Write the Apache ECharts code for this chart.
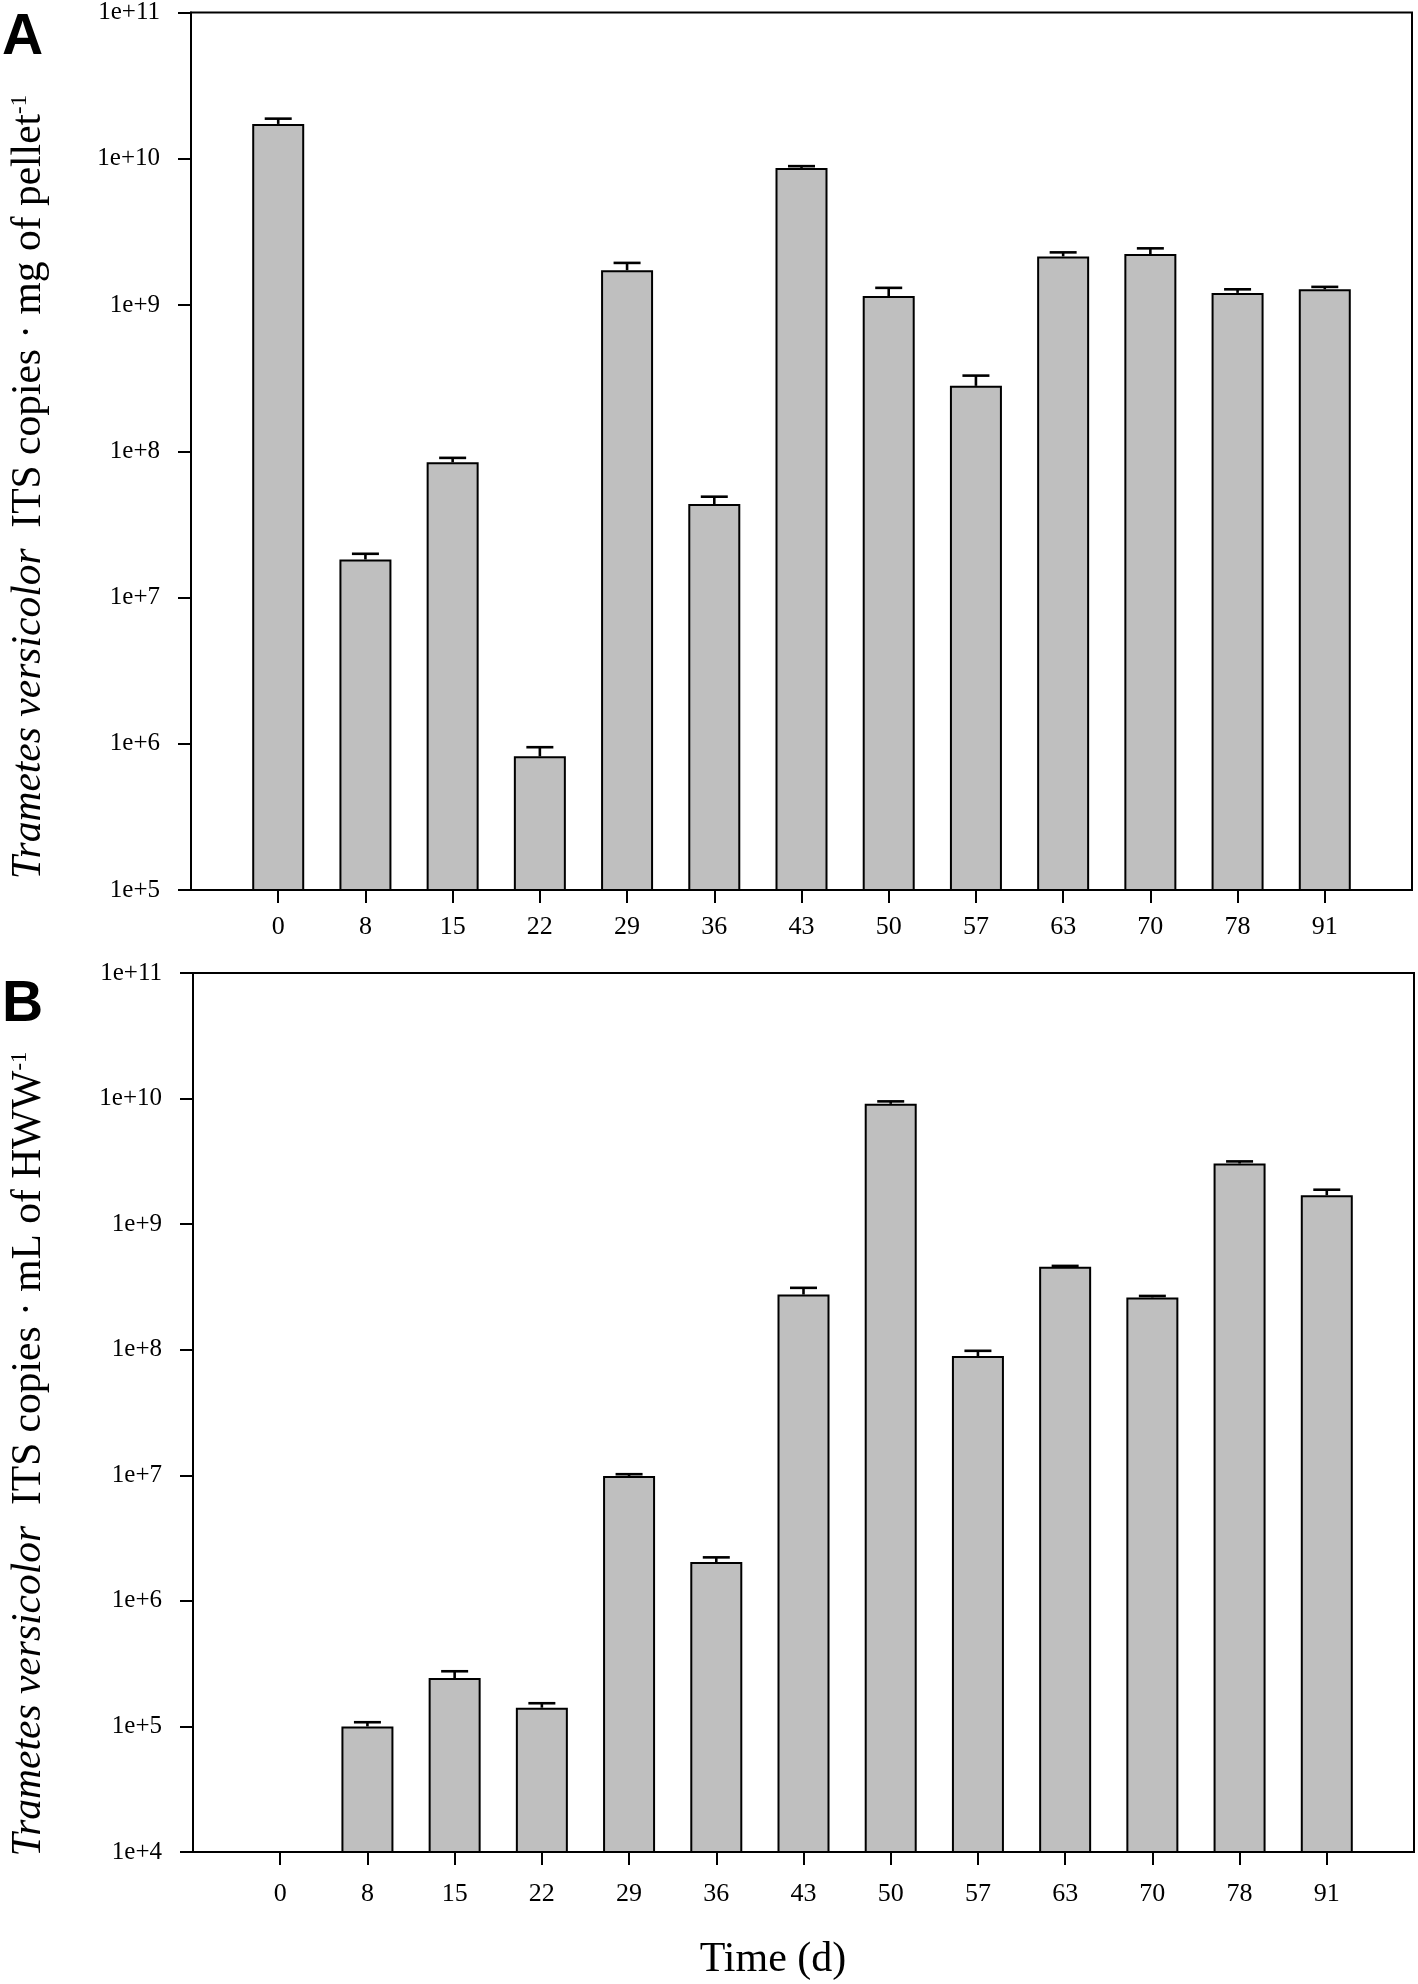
<!DOCTYPE html>
<html>
<head>
<meta charset="utf-8">
<script src="https://cdn.jsdelivr.net/npm/echarts@6/dist/echarts.min.js"></script>
<style>
html,body{margin:0;padding:0;background:#fff;}
#chart{width:1418px;height:1984px;}
</style>
</head>
<body>
<div id="chart"></div>
<script>
// ---- data ----
const days = ['0','8','15','22','29','36','43','50','57','63','70','78','91'];
// Panel A: ITS copies per mg of pellet (mean, upper error = SE)
const meanA = [1.73e10, 1.82e7, 8.4e7, 8.2e5, 1.73e9, 4.36e7, 8.65e9, 1.15e9, 2.80e8, 2.15e9, 2.23e9, 1.21e9, 1.28e9];
const errA  = [1.5e9, 1.7e6, 6.1e6, 1.27e5, 2.1e8, 5.3e6, 2.5e8, 1.6e8, 4.9e7, 1.4e8, 2.1e8, 7e7, 5e7];
// Panel B: ITS copies per mL of HWW (day 0 not detected)
const meanB = [null, 1.0e5, 2.43e5, 1.41e5, 9.87e6, 2.04e6, 2.75e8, 9.08e9, 8.9e7, 4.57e8, 2.61e8, 3.04e9, 1.70e9];
const errB  = [null, 8e3, 3.2e4, 1.2e4, 3.3e5, 1.8e5, 3.6e7, 4.2e8, 9e6, 8e6, 7e6, 1.2e8, 1.8e8];
const yTicksA = ['1e+5','1e+6','1e+7','1e+8','1e+9','1e+10','1e+11'];
const yTicksB = ['1e+4','1e+5','1e+6','1e+7','1e+8','1e+9','1e+10','1e+11'];

// ---- build ----
const xCats = [''].concat(days).concat(['']);
function barData(mean){ return ['-'].concat(mean.map(v => v == null ? '-' : v)).concat(['-']); }
function errData(mean, err){
  const out = [];
  mean.forEach((m, i) => { if (m != null) out.push([i + 1, m, m + err[i]]); });
  return out;
}
const SERIF = '"Liberation Serif", "Times New Roman", serif';
function xAxisCfg(gi, margin){
  return {
    gridIndex: gi, type: 'category', data: xCats, boundaryGap: false,
    axisLine: {show: true, lineStyle: {color: '#000', width: 2}},
    axisTick: {show: true, length: 13, lineStyle: {color: '#000', width: 2},
      interval: (idx, val) => val !== ''},
    axisLabel: {show: true, interval: 0, color: '#000', fontFamily: SERIF, fontSize: 26, margin: margin},
    splitLine: {show: false}
  };
}
function yAxisCfg(gi, min, max, labels){
  const lo = Math.round(Math.log10(min));
  return {
    gridIndex: gi, type: 'log', logBase: 10, min: min, max: max,
    splitNumber: labels.length - 1,
    axisLine: {show: true, lineStyle: {color: '#000', width: 2}},
    axisTick: {show: true, length: 13, lineStyle: {color: '#000', width: 2}},
    minorTick: {show: false},
    axisLabel: {show: true, color: '#000', fontFamily: SERIF, fontSize: 25, margin: 31,
      formatter: v => labels[Math.round(Math.log10(v)) - lo]},
    splitLine: {show: false}
  };
}
function errorSeries(xi, yi, data){
  return {
    type: 'custom', xAxisIndex: xi, yAxisIndex: yi, data: data, z: 1,
    renderItem: function(params, api){
      const p0 = api.coord([api.value(0), api.value(1)]);
      const p1 = api.coord([api.value(0), api.value(2)]);
      const hw = 13.5;
      const st = {stroke: '#000', lineWidth: 2.6, fill: null};
      return {type: 'group', children: [
        {type: 'line', shape: {x1: p0[0], y1: p0[1], x2: p1[0], y2: p1[1]}, style: st},
        {type: 'line', shape: {x1: p1[0] - hw, y1: p1[1], x2: p1[0] + hw, y2: p1[1]}, style: st}
      ]};
    }
  };
}
function barSeries(xi, yi, mean){
  return {
    type: 'bar', xAxisIndex: xi, yAxisIndex: yi, data: barData(mean), barWidth: 52, clip: true, z: 2,
    itemStyle: {color: '#bfbfbf', borderColor: '#000', borderWidth: 2},
    emphasis: {disabled: true}, silent: true
  };
}
const labelRich = {
  i: {fontStyle: 'italic', fontFamily: SERIF, fontSize: 41.5, fill: '#000'},
  n: {fontFamily: SERIF, fontSize: 41.5, fill: '#000'},
  s: {fontFamily: SERIF, fontSize: 23, fill: '#000', verticalAlign: 'top', lineHeight: 23}
};
const option = {
  animation: false,
  backgroundColor: '#fff',
  grid: [
    {left: 191, top: 11, width: 1221, height: 879, show: true, borderColor: '#000', borderWidth: 2, backgroundColor: 'transparent'},
    {left: 193, top: 973, width: 1221, height: 879, show: true, borderColor: '#000', borderWidth: 2, backgroundColor: 'transparent'}
  ],
  xAxis: [xAxisCfg(0, 24), xAxisCfg(1, 29)],
  yAxis: [yAxisCfg(0, 1e5, 1e11, yTicksA), yAxisCfg(1, 1e4, 1e11, yTicksB)],
  series: [
    barSeries(0, 0, meanA), errorSeries(0, 0, errData(meanA, errA)),
    barSeries(1, 1, meanB), errorSeries(1, 1, errData(meanB, errB))
  ],
  graphic: [
    {type: 'text', x: 2, y: 10, style: {text: 'A', font: 'bold 57px "Liberation Sans"', fill: '#000', textAlign: 'left', textVerticalAlign: 'top'}},
    {type: 'text', x: 2, y: 977, style: {text: 'B', font: 'bold 57px "Liberation Sans"', fill: '#000', textAlign: 'left', textVerticalAlign: 'top'}},
    {type: 'text', x: 29, y: 487, rotation: Math.PI / 2,
      style: {text: '{i|Trametes versicolor}{n|  ITS copies · mg of pellet}{s|-1}', rich: labelRich,
        font: '41.5px "Liberation Serif"', fill: '#000', textAlign: 'center', textVerticalAlign: 'middle'}},
    {type: 'text', x: 29, y: 1454, rotation: Math.PI / 2,
      style: {text: '{i|Trametes versicolor}{n|  ITS copies · mL of HWW}{s|-1}', rich: labelRich,
        font: '41.5px "Liberation Serif"', fill: '#000', textAlign: 'center', textVerticalAlign: 'middle'}},
    {type: 'text', x: 773, y: 1960, style: {text: 'Time (d)', font: '42px "Liberation Serif"', fill: '#000', textAlign: 'center', textVerticalAlign: 'middle'}}
  ]
};
const chart = echarts.init(document.getElementById('chart'), null, {renderer: 'canvas'});
chart.setOption(option);
</script>
</body>
</html>
